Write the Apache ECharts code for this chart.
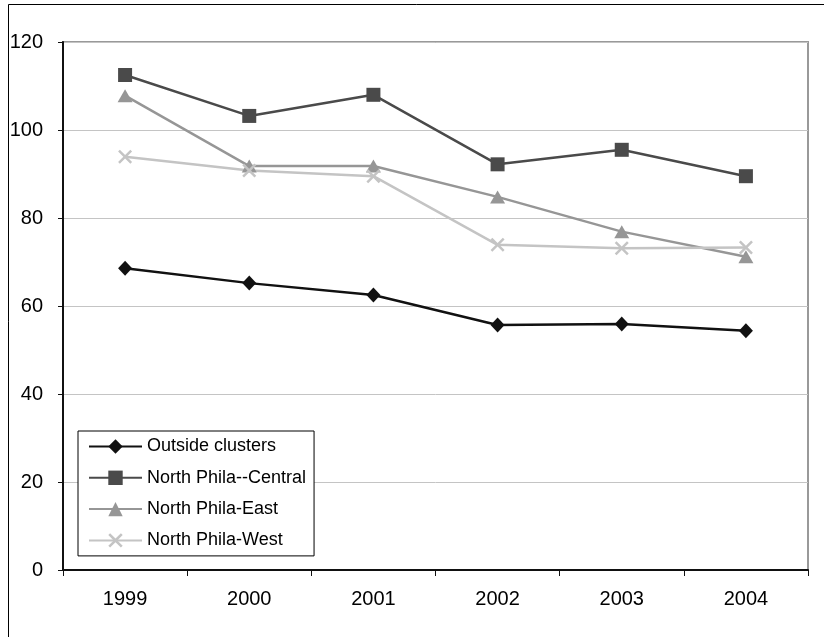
<!DOCTYPE html>
<html>
<head>
<meta charset="utf-8">
<script src="https://cdn.jsdelivr.net/npm/echarts@6/dist/echarts.min.js"></script>
<style>
  html, body { margin: 0; padding: 0; background: #fff; }
  #chart { width: 824px; height: 637px; }
</style>
</head>
<body>
<div id="chart"></div>
<script>
// Years on the horizontal axis
const years = ['1999', '2000', '2001', '2002', '2003', '2004'];

// Series values, one array per area
const outsideClusters = [68.6, 65.2, 62.5, 55.7, 55.9, 54.4];
const northCentral = [112.5, 103.2, 108.0, 92.2, 95.5, 89.5];
const northEast = [107.8, 91.8, 91.8, 84.8, 76.9, 71.2];
const northWest = [93.9, 90.8, 89.5, 73.9, 73.1, 73.3];

// Series names shown in the legend
const seriesNames = ['Outside clusters', 'North Phila--Central', 'North Phila-East', 'North Phila-West'];

const FONT = '"Liberation Sans", Arial, sans-serif';

// Filled cross shape for the West series markers
const crossPath = 'path://M0,1.5L1.5,0L6,4.5L10.5,0L12,1.5L7.5,6L12,10.5L10.5,12L6,7.5L1.5,12L0,10.5L4.5,6Z';

function lineSeries(name, data, color, symbol, size) {
  return {
    name: name,
    type: 'line',
    data: data,
    symbol: symbol,
    symbolSize: size,
    showAllSymbol: true,
    lineStyle: { color: color, width: 2.5 },
    itemStyle: { color: color, borderWidth: 0 },
    emphasis: { disabled: true },
    animation: false
  };
}

const chart = echarts.init(document.getElementById('chart'), null, { renderer: 'canvas' });

chart.setOption({
  backgroundColor: '#fff',
  animation: false,
  grid: {
    left: 63, right: 16, top: 42, bottom: 67,
    show: true,
    borderColor: '#999',
    borderWidth: 2,
    backgroundColor: 'transparent'
  },
  xAxis: {
    type: 'category',
    data: years,
    boundaryGap: true,
    axisLine: { lineStyle: { color: '#111', width: 2 } },
    axisTick: { show: true, length: 6, alignWithLabel: false, lineStyle: { color: '#111', width: 1 } },
    axisLabel: { color: '#000', fontSize: 20, fontFamily: FONT, margin: 19 },
    splitLine: { show: false }
  },
  yAxis: {
    type: 'value',
    min: 0, max: 120, interval: 20,
    axisLine: { show: true, lineStyle: { color: '#111', width: 2 } },
    axisTick: { show: true, length: 5, lineStyle: { color: '#111', width: 1 } },
    axisLabel: { color: '#000', fontSize: 20, fontFamily: FONT, margin: 20 },
    splitLine: { show: true, lineStyle: { color: '#c4c4c4', width: 1 } }
  },
  legend: {
    orient: 'vertical',
    left: 78, top: 431,
    data: seriesNames,
    itemWidth: 53,
    itemHeight: 18,
    itemGap: 13.3,
    padding: [6.5, 8, 6.5, 10],
    backgroundColor: '#fff',
    borderColor: '#000',
    borderWidth: 1,
    borderRadius: 0,
    textStyle: { color: '#000', fontSize: 18, fontFamily: FONT, lineHeight: 18 },
    selectedMode: false,
    z: 10
  },
  graphic: [{
    type: 'rect',
    shape: { x: 8.5, y: 4.5, width: 1000, height: 1000 },
    style: { fill: 'none', stroke: '#000', lineWidth: 1 },
    silent: true,
    z: 100
  }],
  series: [
    lineSeries(seriesNames[0], outsideClusters, '#111111', 'diamond', [14, 15]),
    lineSeries(seriesNames[1], northCentral, '#4a4a4a', 'rect', 14),
    lineSeries(seriesNames[2], northEast, '#969696', 'triangle', [15, 13]),
    lineSeries(seriesNames[3], northWest, '#c4c4c4', crossPath, 14)
  ]
});
</script>
</body>
</html>
